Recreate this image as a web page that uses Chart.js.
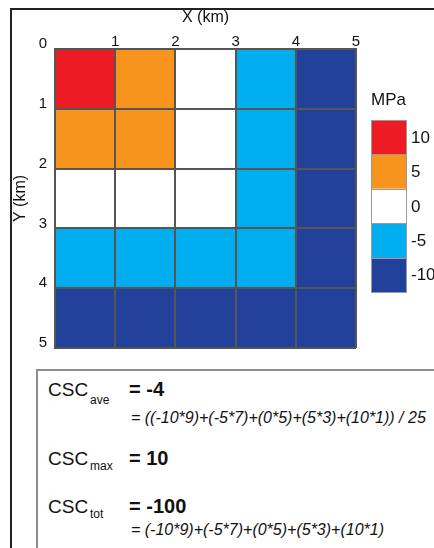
<!DOCTYPE html>
<html>
<head>
<meta charset="utf-8">
<script src="https://cdn.jsdelivr.net/npm/chart.js@4.4.1/dist/chart.umd.min.js"></script>
<style>
  html, body { margin: 0; padding: 0; background: #fff; overflow: hidden; width: 434px; height: 548px; }
  body { position: relative; font-family: "Liberation Sans", Arial, sans-serif; color: #111; }
  #frame { position: absolute; left: 10px; top: 8px; width: 600px; height: 700px; border: 2px solid #222; box-sizing: border-box; }
  #grid { position: absolute; left: 0; top: 0; }
  #stats { position: absolute; left: 36px; top: 369px; width: 600px; height: 400px; border: 2px solid #8c8c8c; box-sizing: border-box; }
  .t { position: absolute; line-height: 1; white-space: nowrap; }
  .csc { font-size: 19px; }
  .sub { font-size: 12px; }
  .val { font-size: 20px; font-weight: bold; }
  .eq { font-size: 16px; font-style: italic; }
</style>
</head>
<body>
<div id="frame"></div>
<canvas id="grid" width="434" height="365"></canvas>
<div id="stats"></div>
<div class="t csc" style="left:48px; top:380px;">CSC</div>
<div class="t sub" style="left:90px; top:394px;">ave</div>
<div class="t val" style="left:129px; top:379px;">= -4</div>
<div class="t eq" style="left:131px; top:410px;">= ((-10*9)+(-5*7)+(0*5)+(5*3)+(10*1)) / 25</div>
<div class="t csc" style="left:48px; top:449px;">CSC</div>
<div class="t sub" style="left:90px; top:460px;">max</div>
<div class="t val" style="left:129px; top:448px;">= 10</div>
<div class="t csc" style="left:48px; top:497px;">CSC</div>
<div class="t sub" style="left:90px; top:508px;">tot</div>
<div class="t val" style="left:129px; top:496px;">= -100</div>
<div class="t eq" style="left:131px; top:522px;">= (-10*9)+(-5*7)+(0*5)+(5*3)+(10*1)</div>
<script>
// stress value (MPa) of each 1 km cell, rows from Y=0 down to Y=5, columns X=0..5
const cellValues = [
  [10, 5, 0, -5, -10],
  [5, 5, 0, -5, -10],
  [0, 0, 0, -5, -10],
  [-5, -5, -5, -5, -10],
  [-10, -10, -10, -10, -10]
];

const levels = [10, 5, 0, -5, -10];
const levelColors = ['#ED1C24', '#F7941D', '#FFFFFF', '#00AEEF', '#21409A'];

const xTicks = [0, 1, 2, 3, 4, 5];
const yTicks = [0, 1, 2, 3, 4, 5];
const unitLabel = 'MPa';

// one floating-bar dataset per colour level, each cell spans [row, row + 1] km
const datasets = levels.map((lv, idx) => {
  const cells = [];
  cellValues.forEach((row, r) => {
    row.forEach((v, c) => {
      if (v === lv) cells.push({ x: c + 0.5, y: [r, r + 1] });
    });
  });
  return {
    label: String(lv),
    data: cells,
    backgroundColor: levelColors[idx],
    borderWidth: 0,
    grouped: false,
    barPercentage: 1,
    categoryPercentage: 1
  };
});

// colour bar drawn to the right of the grid
const colorBar = {
  id: 'colorBar',
  afterDraw(chart) {
    const ctx = chart.ctx;
    const left = 371, top = 120, w = 35, h = 34.4;
    ctx.save();
    ctx.fillStyle = '#111';
    ctx.font = '17px "Liberation Sans", Arial, sans-serif';
    ctx.textBaseline = 'middle';
    ctx.textAlign = 'left';
    ctx.fillText(unitLabel, left, 100);
    levels.forEach((lv, i) => {
      ctx.fillStyle = levelColors[i];
      ctx.fillRect(left, top + i * h, w, h);
      ctx.fillStyle = '#111';
      ctx.fillText(String(lv), left + w + 5, top + i * h + h / 2 + 1);
    });
    ctx.strokeStyle = '#9a9a9a';
    ctx.lineWidth = 1;
    ctx.strokeRect(left + 0.5, top + 0.5, w, h * levels.length);
    for (let i = 1; i < levels.length; i++) {
      ctx.beginPath();
      ctx.moveTo(left, Math.round(top + i * h) + 0.5);
      ctx.lineTo(left + w, Math.round(top + i * h) + 0.5);
      ctx.stroke();
    }
    ctx.restore();
  }
};

const font = { family: '"Liberation Sans", Arial, sans-serif', size: 15 };

new Chart(document.getElementById('grid'), {
  type: 'bar',
  data: { datasets },
  options: {
    responsive: false,
    animation: false,
    layout: { padding: { left: 0, top: 0, right: 78, bottom: 15 } },
    plugins: { legend: { display: false }, tooltip: { enabled: false } },
    scales: {
      x: {
        type: 'linear',
        position: 'top',
        min: 0,
        max: 5,
        offset: false,
        afterBuildTicks: s => { s.ticks = xTicks.map(v => ({ value: v })); },
        afterFit: s => { s.height = 49; },
        ticks: {
          font,
          color: '#111',
          padding: -2,
          maxRotation: 0,
          callback: v => (v === 0 ? '' : v)
        },
        grid: { color: '#555', lineWidth: 2, drawTicks: false, offset: false, z: 1 },
        border: { color: '#555', width: 2, z: 1 },
        title: { display: true, text: 'X (km)', font: { ...font, size: 16 }, color: '#111', padding: { top: 8, bottom: 0 } }
      },
      y: {
        type: 'linear',
        reverse: true,
        min: 0,
        max: 5,
        afterBuildTicks: s => { s.ticks = yTicks.map(v => ({ value: v })); },
        afterFit: s => { s.width = 55; },
        ticks: { font, color: '#111', padding: 8, labelOffset: -5 },
        grid: { color: '#555', lineWidth: 2, drawTicks: false, offset: false, z: 1 },
        border: { color: '#555', width: 2, z: 1 },
        title: { display: true, text: 'Y (km)', font: { ...font, size: 16 }, color: '#111', padding: { top: 11, bottom: 0 } }
      }
    }
  },
  plugins: [colorBar]
});
</script>
</body>
</html>
